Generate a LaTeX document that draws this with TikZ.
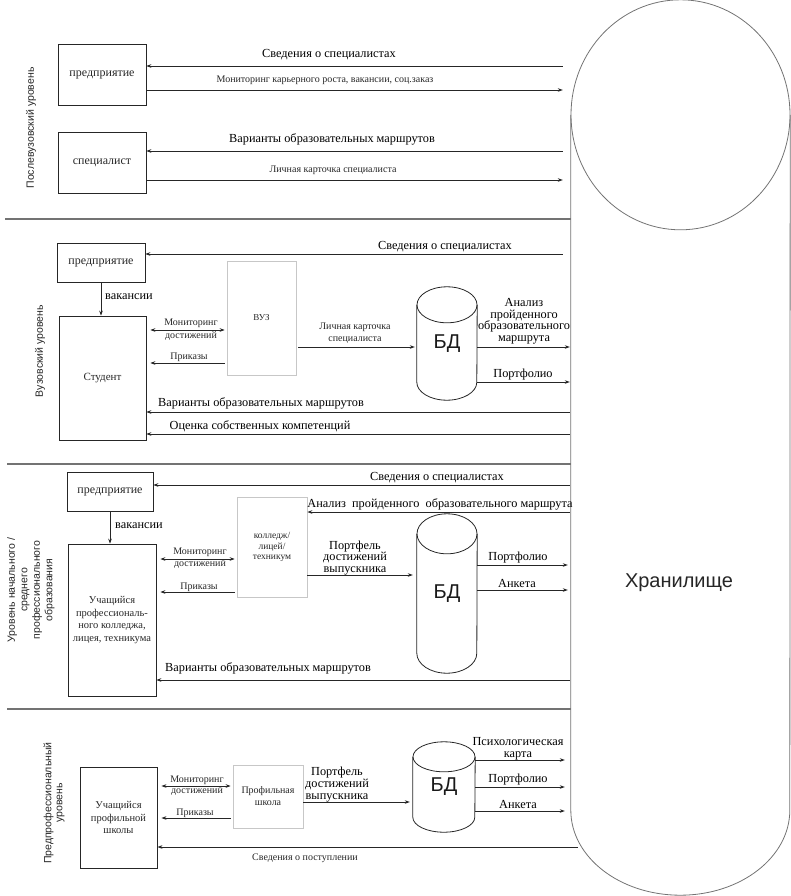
\documentclass[tikz,border=0pt]{standalone}
\usepackage{fontspec}
\setmainfont{Liberation Serif}
\newfontfamily\sansf{Liberation Sans}
\usetikzlibrary{arrows.meta,calc}
\newcommand\fss[2]{\fontsize{#1}{#2}\selectfont}
\newcommand\drawcyl[3]{%
  \draw[ln] ([yshift=-#3]#1.north) ellipse [x radius=#2, y radius=#3];
  \draw[ln] ([yshift=-#3]#1.north west) -- ([yshift=#3]#1.south west)
     arc[start angle=180, end angle=360, x radius=#2, y radius=#3] -- ([yshift=-#3]#1.north east);
}
\begin{document}
\begin{tikzpicture}[x=1pt,y=-1pt,
  box/.style={draw=black!85, line width=0.7pt, inner sep=0, align=center, text=black!85},
  gbox/.style={draw=black!22, line width=0.7pt, inner sep=0, align=center, text=black!85},
  ln/.style={line width=0.8pt, draw=black!85},
  arr/.style={ln, -{Stealth[length=5pt,width=3.6pt]}},
  darr/.style={ln, {Stealth[length=5pt,width=3.6pt]}-{Stealth[length=5pt,width=3.6pt]}},
  hl/.style={font=\fss{12.3}{11.5}, inner sep=0, align=center, text=black},
  sl/.style={font=\fss{10}{12}, inner sep=0, align=center, text=black!85},
  lvl/.style={font=\sansf\fss{10.5}{12.5}, rotate=90, align=center, inner sep=0, text=black!85},
  div/.style={line width=1.3pt, draw=black!55},
  cylo/.style={line width=0.8pt, draw=black!55},
]
\useasboundingbox (0,0) rectangle (790,896);

% storage
\node[draw=none, minimum width=219pt, minimum height=895pt, inner sep=0] (store) at (680.5,447.5) {};
\draw[cylo] ([yshift=-115pt]store.north) ellipse [x radius=109.5pt, y radius=115pt];
\draw[cylo] ([yshift=-115pt]store.north west) -- ([yshift=85pt]store.south west)
   arc[start angle=180, end angle=360, x radius=109.5pt, y radius=85pt] -- ([yshift=-115pt]store.north east);
\node[font=\sansf\fss{20}{22}, text=black!85] (storeT) at (679,583) {Хранилище};

% level labels
\node[lvl] (L1) at (31,128) {Послевузовский уровень};
\node[lvl] (L2) at (40,351) {Вузовский уровень};
\node[lvl] (L3) at (31,590) {Уровень начального /\\среднего\\профессионального\\образования};
\node[lvl, font=\sansf\fss{10.5}{11}] (L4) at (54,803) {Предпрофессиональный\\уровень};

% dividers
\draw[div] (5,219) -- (store.west |- 0,219);
\draw[div] (7,464) -- (store.west |- 0,464);
\draw[div] (7,709) -- (store.west |- 0,709);

% ---------- top section
\node[box, minimum width=88pt, minimum height=61pt, font=\fss{12}{13}] (ent1) at (102,74.5) {предприятие};
\node[box, minimum width=88pt, minimum height=61pt, font=\fss{12}{13}] (spec) at (102,162.5) {специалист};
\draw[arr, shorten <=8pt] (store.west |- 0,66) -- (ent1.east |- 0,66);
\draw[arr, shorten >=8pt] (ent1.east |- 0,90) -- (store.west |- 0,90);
\draw[arr, shorten <=8pt] (store.west |- 0,151) -- (spec.east |- 0,151);
\draw[arr, shorten >=8pt] (spec.east |- 0,180) -- (store.west |- 0,180);
\node[hl] (t1) at (329,55) {Сведения о специалистах};
\node[sl] (t2) at (325,80) {Мониторинг карьерного роста, вакансии, соц.заказ};
\node[hl] (t3) at (332,139) {Варианты образовательных маршрутов};
\node[sl] (t4) at (333,170) {Личная карточка специалиста};

% ---------- university section
\node[box, minimum width=88pt, minimum height=39pt, font=\fss{12}{13}] (ent2) at (101,262.5) {предприятие};
\node[box, minimum width=87pt, minimum height=124pt, font=\fss{11}{13}] (stud) at (102.5,378) {Студент};
\node[gbox, minimum width=69pt, minimum height=114pt, font=\fss{9}{11}] (vuz) at (261.5,318) {ВУЗ};
\node[minimum width=60pt, minimum height=113pt, inner sep=0, font=\sansf\fss{20}{22}, text=black!90] (bd2) at (447,343.5) {БД};
\drawcyl{bd2}{30pt}{18pt}
\draw[arr, shorten <=8pt] (store.west |- 0,254) -- (ent2.east |- 0,254);
\draw[arr] (ent2.south) -- (ent2.south |- stud.north);
\draw[darr, shorten <=4pt, shorten >=2pt] (stud.east |- 0,330) -- (vuz.west |- 0,330);
\draw[arr, shorten <=2pt, shorten >=4pt] (vuz.west |- 0,363) -- (stud.east |- 0,363);
\draw[arr, shorten <=2pt, shorten >=2pt] (vuz.east |- 0,347) -- (bd2.west |- 0,347);
\draw[arr, shorten >=1pt] (bd2.east |- 0,347) -- (store.west |- 0,347);
\draw[arr, shorten >=1pt] (bd2.east |- 0,382) -- (store.west |- 0,382);
\draw[arr, shorten <=1pt] (store.west |- 0,412) -- (stud.east |- 0,412);
\draw[arr, shorten <=1pt] (store.west |- 0,434) -- (stud.east |- 0,434);
\node[hl] (v1) at (445,247) {Сведения о специалистах};
\node[hl, anchor=west] (v2) at (105,297) {вакансии};
\node[sl, font=\fss{10}{12.5}] (v3) at (191,329.5) {Мониторинг\\достижений};
\node[sl] (v4) at (189,357) {Приказы};
\node[sl] (v5) at (355,333) {Личная карточка\\специалиста};
\node[hl, anchor=south] (v6) at (524,344) {Анализ\\пройденного\\образовательного\\маршрута};
\node[hl] (v7) at (523,375) {Портфолио};
\node[hl] (v8) at (261,403) {Варианты образовательных маршрутов};
\node[hl] (v9) at (260,426) {Оценка собственных компетенций};

% ---------- college section
\node[box, minimum width=86pt, minimum height=39pt, font=\fss{12}{13}] (ent3) at (110,491.5) {предприятие};
\node[box, minimum width=88pt, minimum height=152pt, font=\fss{10.5}{12.5}] (uch3) at (112,620) {Учащийся\\профессиональ-\\ного колледжа,\\лицея, техникума};
\node[gbox, minimum width=70pt, minimum height=100pt, font=\fss{9.5}{10.5}] (col) at (272,547) {колледж/\\лицей/\\техникум};
\node[minimum width=60pt, minimum height=159pt, inner sep=0, font=\sansf\fss{20}{22}, text=black!90] (bd3) at (447,593.5) {БД};
\drawcyl{bd3}{30pt}{20pt}
\draw[arr, shorten <=1pt] (store.west |- 0,485) -- (ent3.east |- 0,485);
\draw[arr] (ent3.south) -- (ent3.south |- uch3.north);
\draw[darr, shorten <=4pt, shorten >=2pt] (uch3.east |- 0,559) -- (col.west |- 0,559);
\draw[arr, shorten <=2pt, shorten >=4pt] (col.west |- 0,592) -- (uch3.east |- 0,592);
\draw[arr, shorten <=1pt] (store.west |- 0,512) -- (col.east |- 0,512);
\draw[arr, shorten >=4pt] (col.east |- 0,575) -- (bd3.west |- 0,575);
\draw[arr, shorten >=3pt] (bd3.east |- 0,565) -- (store.west |- 0,565);
\draw[arr, shorten >=3pt] (bd3.east |- 0,590) -- (store.west |- 0,590);
\draw[arr, shorten <=1pt] (store.west |- 0,680) -- (uch3.east |- 0,680);
\node[hl] (c1) at (437,478) {Сведения о специалистах};
\node[hl, anchor=west] (c2) at (115,526) {вакансии};
\node[sl] (c3) at (200,558) {Мониторинг\\достижений};
\node[sl] (c4) at (199,587) {Приказы};
\node[hl] (c5) at (440,504) {Анализ\ \ пройденного\ \ образовательного маршрута};
\node[hl] (c6) at (355,558) {Портфель\\достижений\\выпускника};
\node[hl] (c7) at (518,558) {Портфолио};
\node[hl] (c8) at (517,583) {Анкета};
\node[hl] (c9) at (268,668) {Варианты образовательных маршрутов};

% ---------- pre-professional section
\node[box, line width=0.9pt, minimum width=77pt, minimum height=101pt, font=\fss{10.5}{12.5}] (uch4) at (118.5,817.5) {Учащийся\\профильной\\школы};
\node[gbox, minimum width=70pt, minimum height=63pt, font=\fss{10}{12}] (prof) at (268,796.5) {Профильная\\школа};
\node[minimum width=62pt, minimum height=90pt, inner sep=0, font=\sansf\fss{20}{22}, text=black!90] (bd4) at (444,787) {БД};
\drawcyl{bd4}{31pt}{15pt}
\coordinate (svp) at (578,847);
\draw[darr, shorten <=4pt, shorten >=2pt] (uch4.east |- 0,786) -- (prof.west |- 0,786);
\draw[arr, shorten <=2pt, shorten >=4pt] (prof.west |- 0,818) -- (uch4.east |- 0,818);
\draw[arr, shorten >=3pt] (prof.east |- 0,802) -- (bd4.west |- 0,802);
\draw[arr, shorten >=6pt] (bd4.east |- 0,760) -- (store.west |- 0,760);
\draw[arr, shorten >=6pt] (bd4.east |- 0,787) -- (store.west |- 0,787);
\draw[arr, shorten >=6pt] (bd4.east |- 0,811) -- (store.west |- 0,811);
\draw[arr] (svp) -- (uch4.east |- svp);
\node[sl, font=\fss{10}{11}] (b1) at (197,785.5) {Мониторинг\\достижений};
\node[sl] (b2) at (195,813) {Приказы};
\node[hl, font=\fss{12.3}{12}] (b3) at (337,785) {Портфель\\достижений\\выпускника};
\node[hl, font=\fss{12.3}{12}] (b4) at (518,749) {Психологическая\\карта};
\node[hl] (b5) at (518,780) {Портфолио};
\node[hl] (b6) at (518,804) {Анкета};
\node[sl] (b7) at (305,858) {Сведения о поступлении};
\end{tikzpicture}
\end{document}
